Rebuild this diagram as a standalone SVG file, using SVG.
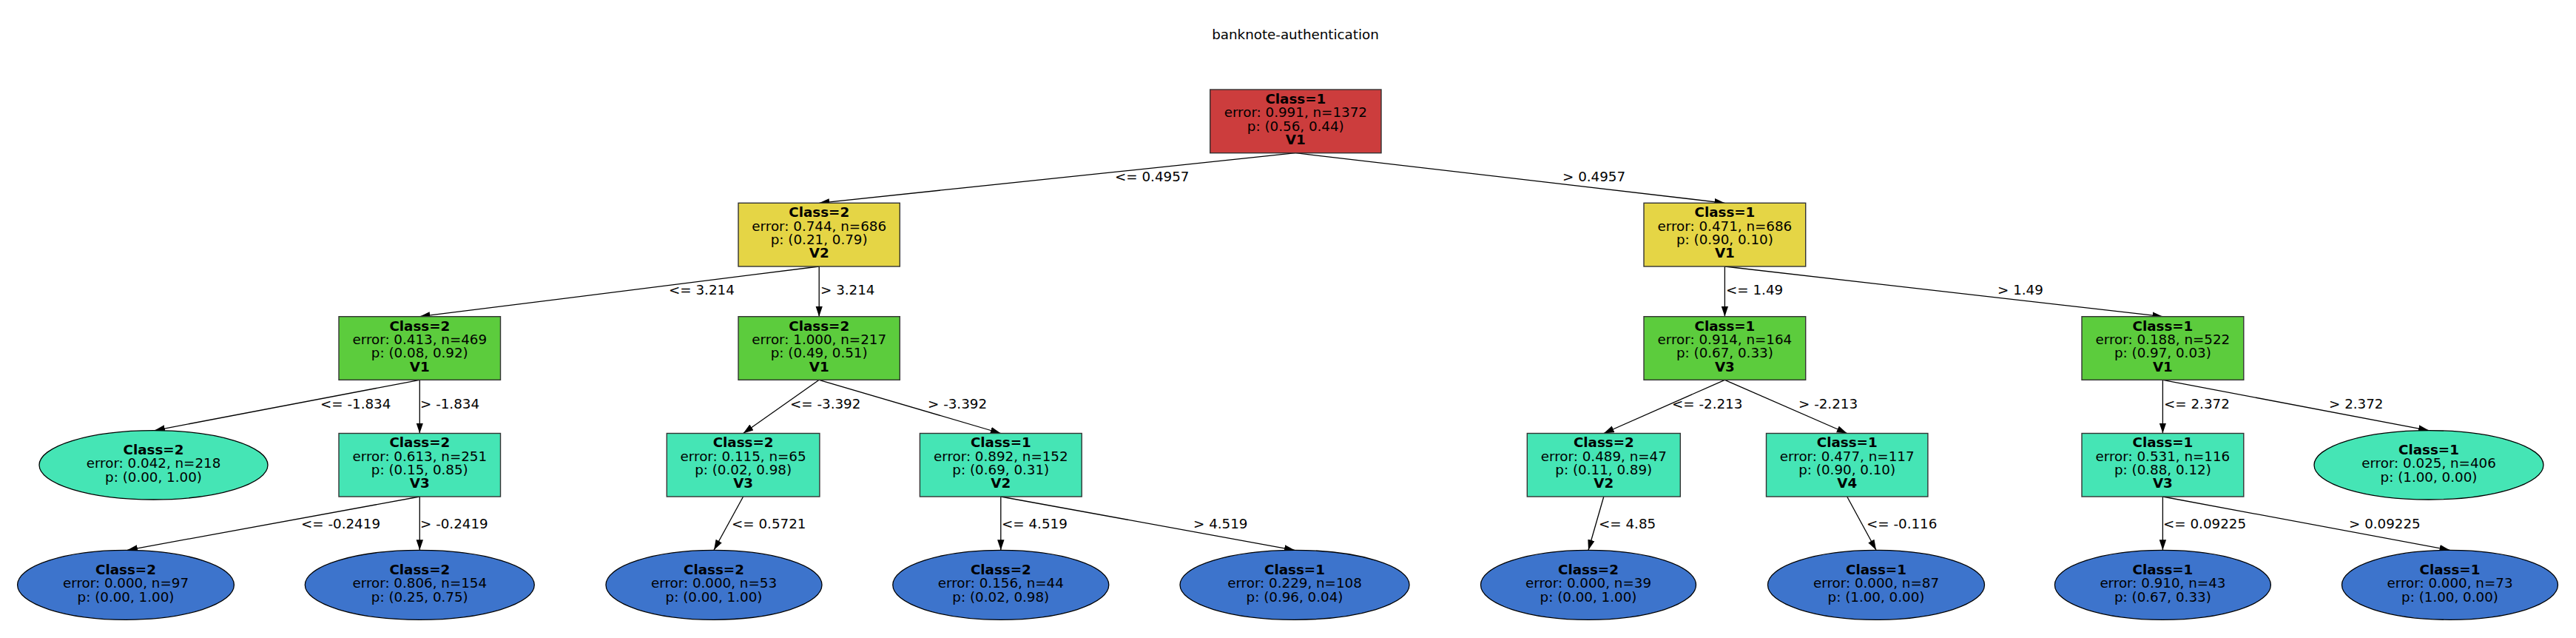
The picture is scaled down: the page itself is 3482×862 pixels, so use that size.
<svg xmlns="http://www.w3.org/2000/svg" width="3482" height="862" viewBox="0 0 3482 862">
<style>
text{font-family:"DejaVu Sans","Liberation Sans",sans-serif;font-size:18.3px;fill:#000}
.c{text-anchor:middle}
.b{font-weight:bold}
.box{stroke:#333;stroke-width:1.4}
.ell{stroke:#000;stroke-width:1.3}
.red{fill:#cc3d3d}.yel{fill:#e5d545}.grn{fill:#5ccc3d}.tea{fill:#45e5b5}.blu{fill:#3d74cc}
.edges line{stroke:#000;stroke-width:1.3;marker-end:url(#ah)}
</style>
<defs>
<marker id="ah" markerUnits="userSpaceOnUse" markerWidth="14" markerHeight="10" refX="14" refY="4.7" orient="auto">
<path d="M0,0 L14,4.7 L0,9.4 z" fill="#000"/>
</marker>
</defs>
<rect width="3482" height="862" fill="#fff"/>
<text class="c" x="1751" y="53">banknote-authentication</text>

<g class="edges" id="edges">
<line x1="1751.3" y1="206.7" x2="1107.2" y2="274.3"/>
<line x1="1751.3" y1="206.7" x2="2331.4" y2="274.3"/>
<line x1="1107.2" y1="360" x2="567.3" y2="427.7"/>
<line x1="1107.2" y1="360" x2="1107.2" y2="427.7"/>
<line x1="2331.4" y1="360" x2="2331.4" y2="427.7"/>
<line x1="2331.4" y1="360" x2="2923.4" y2="427.7"/>
<line x1="567.3" y1="513.3" x2="209" y2="581.6"/>
<line x1="567.3" y1="513.3" x2="567.3" y2="585.5"/>
<line x1="1107.2" y1="513.3" x2="1004.6" y2="585.5"/>
<line x1="1107.2" y1="513.3" x2="1352.8" y2="585.5"/>
<line x1="2331.4" y1="513.3" x2="2167.8" y2="585.5"/>
<line x1="2331.4" y1="513.3" x2="2496.7" y2="585.5"/>
<line x1="2923.4" y1="513.3" x2="2923.4" y2="585.5"/>
<line x1="2923.4" y1="513.3" x2="3283" y2="581.6"/>
<line x1="567.3" y1="671" x2="172" y2="743.3"/>
<line x1="567.3" y1="671" x2="567.3" y2="743.3"/>
<line x1="1004.6" y1="671" x2="965" y2="743.3"/>
<line x1="1352.8" y1="671" x2="1352.8" y2="743.3"/>
<line x1="1352.8" y1="671" x2="1750" y2="743.3"/>
<line x1="2167.8" y1="671" x2="2147" y2="743.3"/>
<line x1="2496.7" y1="671" x2="2536" y2="743.3"/>
<line x1="2923.4" y1="671" x2="2923.4" y2="743.3"/>
<line x1="2923.4" y1="671" x2="3311.5" y2="743.3"/>
<text x="1507" y="245">&lt;= 0.4957</text>
<text x="2112" y="245">&gt; 0.4957</text>
<text x="904" y="398">&lt;= 3.214</text>
<text x="1109" y="398">&gt; 3.214</text>
<text x="2333" y="398">&lt;= 1.49</text>
<text x="2700" y="398">&gt; 1.49</text>
<text x="433" y="551.7">&lt;= -1.834</text>
<text x="568" y="551.7">&gt; -1.834</text>
<text x="1068" y="551.7">&lt;= -3.392</text>
<text x="1254" y="551.7">&gt; -3.392</text>
<text x="2260" y="551.7">&lt;= -2.213</text>
<text x="2431" y="551.7">&gt; -2.213</text>
<text x="2925" y="551.7">&lt;= 2.372</text>
<text x="3148" y="551.7">&gt; 2.372</text>
<text x="407" y="713.7">&lt;= -0.2419</text>
<text x="568" y="713.7">&gt; -0.2419</text>
<text x="989" y="713.7">&lt;= 0.5721</text>
<text x="1354" y="713.7">&lt;= 4.519</text>
<text x="1613" y="713.7">&gt; 4.519</text>
<text x="2161" y="713.7">&lt;= 4.85</text>
<text x="2523" y="713.7">&lt;= -0.116</text>
<text x="2924" y="713.7">&lt;= 0.09225</text>
<text x="3175" y="713.7">&gt; 0.09225</text>
</g>

<g id="n0">
<rect class="box red" x="1635.7" y="121" width="231.3" height="85.7"/>
<text class="c b" x="1751.3" y="140">Class=1</text>
<text class="c" x="1751.3" y="158.3">error: 0.991, n=1372</text>
<text class="c" x="1751.3" y="176.6">p: (0.56, 0.44)</text>
<text class="c b" x="1751.3" y="195">V1</text>
</g>

<g id="n1">
<rect class="box yel" x="998" y="274.3" width="218.3" height="85.7"/>
<text class="c b" x="1107.2" y="293.2">Class=2</text>
<text class="c" x="1107.2" y="311.5">error: 0.744, n=686</text>
<text class="c" x="1107.2" y="329.8">p: (0.21, 0.79)</text>
<text class="c b" x="1107.2" y="348.2">V2</text>
</g>

<g id="n2">
<rect class="box yel" x="2222" y="274.3" width="218.7" height="85.7"/>
<text class="c b" x="2331.4" y="293.2">Class=1</text>
<text class="c" x="2331.4" y="311.5">error: 0.471, n=686</text>
<text class="c" x="2331.4" y="329.8">p: (0.90, 0.10)</text>
<text class="c b" x="2331.4" y="348.2">V1</text>
</g>

<g id="n3">
<rect class="box grn" x="458" y="427.7" width="218.5" height="85.6"/>
<text class="c b" x="567.3" y="446.5">Class=2</text>
<text class="c" x="567.3" y="464.8">error: 0.413, n=469</text>
<text class="c" x="567.3" y="483.1">p: (0.08, 0.92)</text>
<text class="c b" x="567.3" y="501.5">V1</text>
</g>

<g id="n4">
<rect class="box grn" x="998" y="427.7" width="218.3" height="85.6"/>
<text class="c b" x="1107.2" y="446.5">Class=2</text>
<text class="c" x="1107.2" y="464.8">error: 1.000, n=217</text>
<text class="c" x="1107.2" y="483.1">p: (0.49, 0.51)</text>
<text class="c b" x="1107.2" y="501.5">V1</text>
</g>

<g id="n5">
<rect class="box grn" x="2222" y="427.7" width="218.7" height="85.6"/>
<text class="c b" x="2331.4" y="446.5">Class=1</text>
<text class="c" x="2331.4" y="464.8">error: 0.914, n=164</text>
<text class="c" x="2331.4" y="483.1">p: (0.67, 0.33)</text>
<text class="c b" x="2331.4" y="501.5">V3</text>
</g>

<g id="n6">
<rect class="box grn" x="2814" y="427.7" width="218.8" height="85.6"/>
<text class="c b" x="2923.4" y="446.5">Class=1</text>
<text class="c" x="2923.4" y="464.8">error: 0.188, n=522</text>
<text class="c" x="2923.4" y="483.1">p: (0.97, 0.03)</text>
<text class="c b" x="2923.4" y="501.5">V1</text>
</g>

<g id="n7">
<ellipse class="ell tea" cx="207.5" cy="628.3" rx="154.5" ry="46.7"/>
<text class="c b" x="207.5" y="613.6">Class=2</text>
<text class="c" x="207.5" y="632.3">error: 0.042, n=218</text>
<text class="c" x="207.5" y="650.9">p: (0.00, 1.00)</text>
</g>

<g id="n8">
<rect class="box tea" x="458" y="585.5" width="218.5" height="85.5"/>
<text class="c b" x="567.3" y="604.3">Class=2</text>
<text class="c" x="567.3" y="622.6">error: 0.613, n=251</text>
<text class="c" x="567.3" y="640.9">p: (0.15, 0.85)</text>
<text class="c b" x="567.3" y="659.3">V3</text>
</g>

<g id="n9">
<rect class="box tea" x="901.3" y="585.5" width="206.6" height="85.5"/>
<text class="c b" x="1004.6" y="604.3">Class=2</text>
<text class="c" x="1004.6" y="622.6">error: 0.115, n=65</text>
<text class="c" x="1004.6" y="640.9">p: (0.02, 0.98)</text>
<text class="c b" x="1004.6" y="659.3">V3</text>
</g>

<g id="n10">
<rect class="box tea" x="1243.4" y="585.5" width="218.8" height="85.5"/>
<text class="c b" x="1352.8" y="604.3">Class=1</text>
<text class="c" x="1352.8" y="622.6">error: 0.892, n=152</text>
<text class="c" x="1352.8" y="640.9">p: (0.69, 0.31)</text>
<text class="c b" x="1352.8" y="659.3">V2</text>
</g>

<g id="n11">
<rect class="box tea" x="2064.3" y="585.5" width="207" height="85.5"/>
<text class="c b" x="2167.8" y="604.3">Class=2</text>
<text class="c" x="2167.8" y="622.6">error: 0.489, n=47</text>
<text class="c" x="2167.8" y="640.9">p: (0.11, 0.89)</text>
<text class="c b" x="2167.8" y="659.3">V2</text>
</g>

<g id="n12">
<rect class="box tea" x="2387.5" y="585.5" width="218.4" height="85.5"/>
<text class="c b" x="2496.7" y="604.3">Class=1</text>
<text class="c" x="2496.7" y="622.6">error: 0.477, n=117</text>
<text class="c" x="2496.7" y="640.9">p: (0.90, 0.10)</text>
<text class="c b" x="2496.7" y="659.3">V4</text>
</g>

<g id="n13">
<rect class="box tea" x="2814" y="585.5" width="218.8" height="85.5"/>
<text class="c b" x="2923.4" y="604.3">Class=1</text>
<text class="c" x="2923.4" y="622.6">error: 0.531, n=116</text>
<text class="c" x="2923.4" y="640.9">p: (0.88, 0.12)</text>
<text class="c b" x="2923.4" y="659.3">V3</text>
</g>

<g id="n14">
<ellipse class="ell tea" cx="3283" cy="628.3" rx="155" ry="46.7"/>
<text class="c b" x="3283" y="613.6">Class=1</text>
<text class="c" x="3283" y="632.3">error: 0.025, n=406</text>
<text class="c" x="3283" y="650.9">p: (1.00, 0.00)</text>
</g>

<g id="n15">
<ellipse class="ell blu" cx="170" cy="790.3" rx="146.4" ry="47"/>
<text class="c b" x="170" y="775.6">Class=2</text>
<text class="c" x="170" y="794.3">error: 0.000, n=97</text>
<text class="c" x="170" y="812.9">p: (0.00, 1.00)</text>
</g>

<g id="n16">
<ellipse class="ell blu" cx="567.3" cy="790.3" rx="155" ry="47"/>
<text class="c b" x="567.3" y="775.6">Class=2</text>
<text class="c" x="567.3" y="794.3">error: 0.806, n=154</text>
<text class="c" x="567.3" y="812.9">p: (0.25, 0.75)</text>
</g>

<g id="n17">
<ellipse class="ell blu" cx="965" cy="790.3" rx="146" ry="47"/>
<text class="c b" x="965" y="775.6">Class=2</text>
<text class="c" x="965" y="794.3">error: 0.000, n=53</text>
<text class="c" x="965" y="812.9">p: (0.00, 1.00)</text>
</g>

<g id="n18">
<ellipse class="ell blu" cx="1352.8" cy="790.3" rx="146" ry="47"/>
<text class="c b" x="1352.8" y="775.6">Class=2</text>
<text class="c" x="1352.8" y="794.3">error: 0.156, n=44</text>
<text class="c" x="1352.8" y="812.9">p: (0.02, 0.98)</text>
</g>

<g id="n19">
<ellipse class="ell blu" cx="1750" cy="790.3" rx="155" ry="47"/>
<text class="c b" x="1750" y="775.6">Class=1</text>
<text class="c" x="1750" y="794.3">error: 0.229, n=108</text>
<text class="c" x="1750" y="812.9">p: (0.96, 0.04)</text>
</g>

<g id="n20">
<ellipse class="ell blu" cx="2147" cy="790.3" rx="145.5" ry="47"/>
<text class="c b" x="2147" y="775.6">Class=2</text>
<text class="c" x="2147" y="794.3">error: 0.000, n=39</text>
<text class="c" x="2147" y="812.9">p: (0.00, 1.00)</text>
</g>

<g id="n21">
<ellipse class="ell blu" cx="2536" cy="790.3" rx="146.5" ry="47"/>
<text class="c b" x="2536" y="775.6">Class=1</text>
<text class="c" x="2536" y="794.3">error: 0.000, n=87</text>
<text class="c" x="2536" y="812.9">p: (1.00, 0.00)</text>
</g>

<g id="n22">
<ellipse class="ell blu" cx="2923.4" cy="790.3" rx="146" ry="47"/>
<text class="c b" x="2923.4" y="775.6">Class=1</text>
<text class="c" x="2923.4" y="794.3">error: 0.910, n=43</text>
<text class="c" x="2923.4" y="812.9">p: (0.67, 0.33)</text>
</g>

<g id="n23">
<ellipse class="ell blu" cx="3311.5" cy="790.3" rx="146" ry="47"/>
<text class="c b" x="3311.5" y="775.6">Class=1</text>
<text class="c" x="3311.5" y="794.3">error: 0.000, n=73</text>
<text class="c" x="3311.5" y="812.9">p: (1.00, 0.00)</text>
</g>
</svg>
